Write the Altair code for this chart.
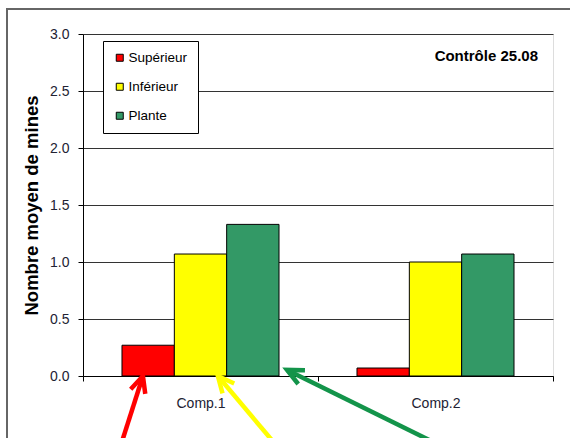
import math
import altair as alt
import pandas as pd

# Groups on the x axis and the three series drawn in each group
categories = ["Comp.1", "Comp.2"]
series = ["Supérieur", "Inférieur", "Plante"]
series_colors = ["#FF0000", "#FFFF00", "#339966"]

# Mean number of mines per series, one list per group
values_comp1 = [0.27, 1.07, 1.33]
values_comp2 = [0.07, 1.00, 1.07]

y_ticks = [0.0, 0.5, 1.0, 1.5, 2.0, 2.5, 3.0]
panel_title = "Contrôle 25.08"

# Annotation arrows: x in group widths from the left edge, y in axis units
arrow_colors = ["#FF0000", "#FFFF00", "#13944A"]
arrow_tip_x = [0.255, 0.574, 0.868]
arrow_tip_y = [0.0, 0.0, 0.053]
arrow_tail_x = [0.162, 0.819, 1.511]
arrow_tail_y = [-0.6, -0.6, -0.6]

PLOT_W, PLOT_H = 470, 342
FONT = "Liberation Sans"

rows = []
for cat, vals in zip(categories, [values_comp1, values_comp2]):
    for s, v in zip(series, vals):
        rows.append({"cat": cat, "serie": s, "val": v})
bars_df = pd.DataFrame(rows)

# Head rotation follows each shaft's on-screen direction
px_x = PLOT_W / len(categories)
px_y = PLOT_H / (y_ticks[-1] - y_ticks[0])
angles = []
for tx, ty, sx, sy in zip(arrow_tip_x, arrow_tip_y, arrow_tail_x, arrow_tail_y):
    dx = (tx - sx) * px_x
    dy = (ty - sy) * px_y
    angles.append(math.degrees(math.atan2(dx, dy)) % 360)

arrows_df = pd.DataFrame({
    "col": arrow_colors, "tx": arrow_tip_x, "ty": arrow_tip_y,
    "sx": arrow_tail_x, "sy": arrow_tail_y, "ang": angles,
})

y_scale = alt.Scale(domain=[y_ticks[0], y_ticks[-1]], nice=False)

frame = alt.Chart(pd.DataFrame({"k": [0]})).mark_rect(
    fillOpacity=0, stroke="#666666", strokeWidth=2
).encode(
    x=alt.value(-76), y=alt.value(-25), x2=alt.value(900), y2=alt.value(900)
)

bars = alt.Chart(bars_df).mark_bar(stroke="black", strokeWidth=1, opacity=1).encode(
    x=alt.X(
        "cat:N", sort=categories, title=None,
        scale=alt.Scale(paddingInner=0, paddingOuter=0),
        axis=alt.Axis(
            tickBand="extent", tickSize=5, tickColor="black", domainColor="black",
            labelAngle=0, labelFontSize=14, labelFont=FONT, labelColor="#222233",
            labelPadding=15, grid=False,
        ),
    ),
    xOffset=alt.XOffset("serie:N", sort=series,
                        scale=alt.Scale(paddingInner=0, paddingOuter=0.745)),
    y=alt.Y(
        "val:Q", scale=y_scale,
        axis=alt.Axis(
            values=y_ticks, format=".1f", title="Nombre moyen de mines",
            titleFont=FONT, titleFontSize=18.5, titleFontWeight="bold",
            titleColor="black", titleAngle=270, titleAlign="center",
            titleBaseline="middle", titleX=-52, titleY=171,
            labelFont=FONT, labelFontSize=14, labelColor="#222233",
            labelPadding=9, tickSize=5, tickColor="black", domainColor="black",
            grid=True, gridColor="#333333", gridWidth=1,
        ),
    ),
    color=alt.Color(
        "serie:N", sort=series,
        scale=alt.Scale(domain=series, range=series_colors),
        legend=alt.Legend(
            title=None, orient="none", legendX=20, legendY=7,
            strokeColor="black", fillColor="white", padding=10,
            symbolType="square", symbolSize=49, symbolStrokeColor="black",
            symbolStrokeWidth=1, symbolOpacity=1, rowPadding=14,
            labelFont=FONT, labelFontSize=13.5, labelColor="black", labelOffset=2,
        ),
    ),
)

title = alt.Chart(pd.DataFrame({"t": [panel_title]})).mark_text(
    font=FONT, fontSize=15, fontWeight="bold", align="right",
    baseline="alphabetic", color="black"
).encode(text="t:N", x=alt.value(455), y=alt.value(27))

arrow_x = alt.Scale(domain=[0, len(categories)], nice=False, zero=False)

shafts = alt.Chart(arrows_df).mark_rule(strokeWidth=4.5).encode(
    x=alt.X("tx:Q", scale=arrow_x, axis=None),
    x2="sx:Q",
    y=alt.Y("ty:Q", scale=y_scale),
    y2="sy:Q",
    stroke=alt.Stroke("col:N", scale=None),
)

heads = alt.Chart(arrows_df).mark_point(
    shape="M-0.47,1L0,0L0.47,1", filled=False, size=1060,
    strokeWidth=4.5, opacity=1
).encode(
    x=alt.X("tx:Q", scale=arrow_x, axis=None),
    y=alt.Y("ty:Q", scale=y_scale),
    angle=alt.Angle("ang:Q", scale=None),
    stroke=alt.Stroke("col:N", scale=None),
)

chart = alt.layer(frame, bars, title, shafts, heads).resolve_scale(
    x="independent", stroke="independent"
).properties(
    width=PLOT_W, height=PLOT_H,
    autosize=alt.AutoSizeParams(type="none"),
    padding={"left": 83, "top": 34, "right": 17, "bottom": 62},
).configure_view(stroke="#808080", strokeWidth=1).configure(background="white")

chart.save("out.html", embed_options={"renderer": "svg", "actions": False})
